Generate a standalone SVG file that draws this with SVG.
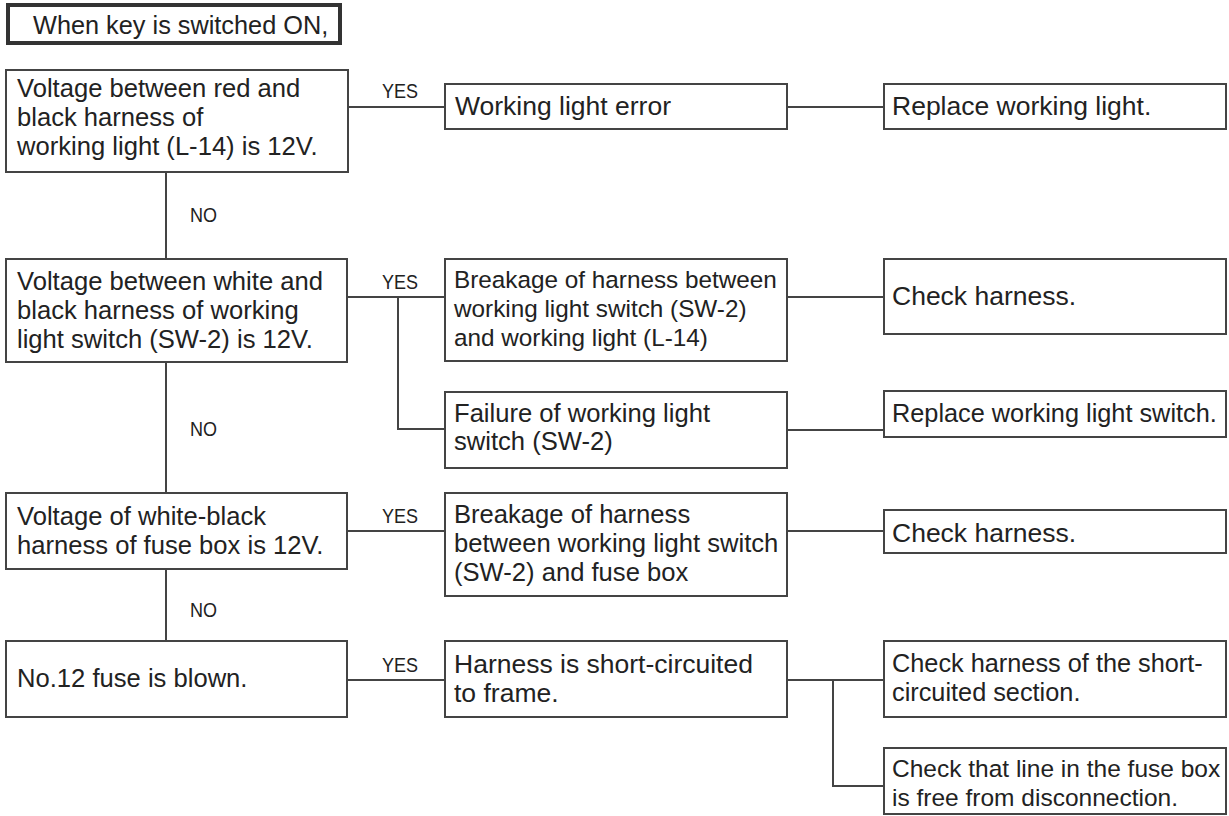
<svg xmlns="http://www.w3.org/2000/svg" width="1229" height="816" viewBox="0 0 1229 816">
<style>
.box{fill:#fff;stroke:#444;stroke-width:2}
.title{fill:#fff;stroke:#333;stroke-width:4}
.t{font-family:"Liberation Sans",Arial,sans-serif;font-size:24.3px;fill:#222}
.l{font-size:25.6px}
.b{font-size:26.5px}
.m{font-size:25.3px}
.lbl{font-family:"Liberation Sans",Arial,sans-serif;font-size:21px;fill:#222}
.c{fill:none;stroke:#444;stroke-width:2}
</style>
<rect width="1229" height="816" fill="#fff"/>
<g id="connectors">
<path class="c" d="M348 107H445M787 107H884"/>
<path class="c" d="M166 172V259M166 362V493M166 569V641"/>
<path class="c" d="M347 297H445M398 297V429H445M787 297H884M787 430H884"/>
<path class="c" d="M347 531H445M787 531H884"/>
<path class="c" d="M347 680H445M787 680H833M833 680V786H884M833 680H884"/>
<text class="lbl" x="382" y="98" textLength="36" lengthAdjust="spacingAndGlyphs">YES</text>
<text class="lbl" x="382" y="289" textLength="36" lengthAdjust="spacingAndGlyphs">YES</text>
<text class="lbl" x="382" y="523" textLength="36" lengthAdjust="spacingAndGlyphs">YES</text>
<text class="lbl" x="382" y="672" textLength="36" lengthAdjust="spacingAndGlyphs">YES</text>
<text class="lbl" x="190" y="222" textLength="27" lengthAdjust="spacingAndGlyphs">NO</text>
<text class="lbl" x="190" y="436" textLength="27" lengthAdjust="spacingAndGlyphs">NO</text>
<text class="lbl" x="190" y="617" textLength="27" lengthAdjust="spacingAndGlyphs">NO</text>
</g>
<g id="start">
<rect class="title" x="8" y="5" width="332" height="38"/>
<text class="t" style="font-size:25.3px" x="33" y="34">When key is switched ON,</text>
</g>
<g id="q1">
<rect class="box" x="6" y="70" width="342" height="102"/>
<text class="t l" x="17" y="97">Voltage between red and</text>
<text class="t l" x="17" y="126">black harness of</text>
<text class="t l" x="17" y="155">working light (L-14) is 12V.</text>
</g>
<g id="r1">
<rect class="box" x="445" y="84" width="342" height="45"/>
<text class="t b" x="455" y="115">Working light error</text>
</g>
<g id="a1">
<rect class="box" x="884" y="84" width="342" height="45"/>
<text class="t b" x="892" y="115">Replace working light.</text>
</g>
<g id="q2">
<rect class="box" x="6" y="259" width="341" height="103"/>
<text class="t l" x="17" y="290">Voltage between white and</text>
<text class="t l" x="17" y="319">black harness of working</text>
<text class="t l" x="17" y="348">light switch (SW-2) is 12V.</text>
</g>
<g id="r2a">
<rect class="box" x="445" y="259" width="342" height="102"/>
<text class="t" x="454" y="288">Breakage of harness between</text>
<text class="t" x="454" y="317">working light switch (SW-2)</text>
<text class="t" x="454" y="346">and working light (L-14)</text>
</g>
<g id="a2a">
<rect class="box" x="884" y="259" width="342" height="75"/>
<text class="t b" x="892" y="305">Check harness.</text>
</g>
<g id="r2b">
<rect class="box" x="445" y="392" width="342" height="76"/>
<text class="t l" x="454" y="422">Failure of working light</text>
<text class="t l" x="454" y="450">switch (SW-2)</text>
</g>
<g id="a2b">
<rect class="box" x="884" y="391" width="342" height="46"/>
<text class="t m" x="892" y="422">Replace working light switch.</text>
</g>
<g id="q3">
<rect class="box" x="6" y="493" width="341" height="76"/>
<text class="t l" x="17" y="525">Voltage of white-black</text>
<text class="t l" x="17" y="554">harness of fuse box is 12V.</text>
</g>
<g id="r3">
<rect class="box" x="445" y="493" width="342" height="103"/>
<text class="t l" x="454" y="523">Breakage of harness</text>
<text class="t l" x="454" y="552">between working light switch</text>
<text class="t l" x="454" y="581">(SW-2) and fuse box</text>
</g>
<g id="a3">
<rect class="box" x="884" y="510" width="342" height="43"/>
<text class="t b" x="892" y="542">Check harness.</text>
</g>
<g id="q4">
<rect class="box" x="6" y="641" width="341" height="76"/>
<text class="t l" x="17" y="687">No.12 fuse is blown.</text>
</g>
<g id="r4">
<rect class="box" x="445" y="641" width="342" height="76"/>
<text class="t b" x="454" y="673">Harness is short-circuited</text>
<text class="t b" x="454" y="702">to frame.</text>
</g>
<g id="a4a">
<rect class="box" x="884" y="641" width="342" height="76"/>
<text class="t m" x="892" y="672">Check harness of the short-</text>
<text class="t m" x="892" y="701">circuited section.</text>
</g>
<g id="a4b">
<rect class="box" x="884" y="748" width="342" height="66"/>
<text class="t" style="font-size:24.5px" x="892" y="777">Check that line in the fuse box</text>
<text class="t" style="font-size:24.5px" x="892" y="806">is free from disconnection.</text>
</g>
</svg>
